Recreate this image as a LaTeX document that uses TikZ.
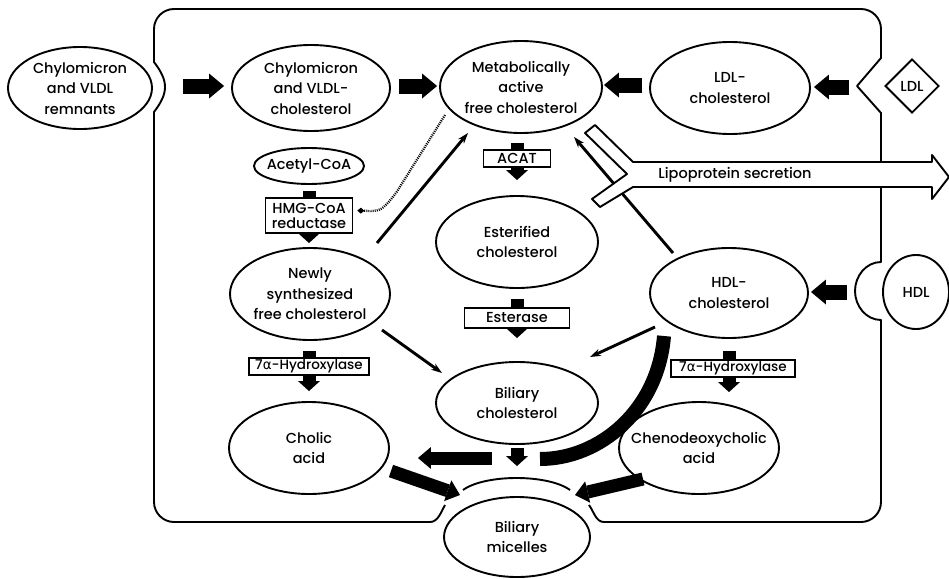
\documentclass[tikz,border=0pt]{standalone}
\usepackage{fontspec}
\setmainfont{Poppins Medium}
\newfontfamily\grk{DejaVu Sans}
\usetikzlibrary{arrows.meta,shapes.geometric,calc}
\begin{document}
\begin{tikzpicture}[x=1pt,y=-1pt,
  lbl/.style={font=\fontsize{14.5}{20.5}\selectfont, align=center},
  ell/.style 2 args={ellipse, draw, line width=1.9pt, inner sep=-14pt, minimum width=#1, minimum height=#2, lbl},
  enz/.style 2 args={rectangle, draw, fill=white, line width=1.7pt, inner sep=0pt, minimum width=#1, minimum height=#2, lbl},
  fat/.style={line width=15pt, -{Triangle[width=25pt,length=15pt,line width=0pt]}},
  fatv/.style={line width=13pt, -{Triangle[width=22pt,length=10pt,line width=0pt]}},
  fatb/.style={line width=13pt, -{Triangle[width=22pt,length=13pt,line width=0pt]}},
  slim/.style={line width=2.9pt, -{Stealth[length=11pt,width=7.5pt,line width=0pt]}},
  dotl/.style={line width=2.3pt, dash pattern=on 1pt off 1.1pt, -{Diamond[length=7pt,width=6pt,line width=0pt]}},
  memb/.style={line width=1.9pt, line join=round}
]
\useasboundingbox (0,0) rectangle (949,578);

% cell membrane
\draw[memb] (589,505) .. controls (594,512) and (596,522) .. (604,522) -- (861,522)
  .. controls (872,522) and (881,513) .. (881,502) -- (881,320)
  .. controls (866,320) and (855,306) .. (855,291) .. controls (855,276) and (866,262) .. (881,262)
  -- (881,113) -- (857,86) -- (881,58) -- (881,29)
  .. controls (881,18) and (872,9) .. (861,9) -- (174,9)
  .. controls (163,9) and (154,18) .. (154,29) -- (154,62)
  .. controls (160,70) and (165,78) .. (165,87) .. controls (165,96) and (160,104) .. (154,112)
  -- (154,502) .. controls (154,513) and (163,522) .. (174,522) -- (430,522)
  .. controls (438,522) and (441,512) .. (445,505);
\draw[memb] (463,490) .. controls (485,474) and (548,474) .. (570,490);

% compartments
\node[ell={144pt}{82pt}] (remn) at (80,88) {Chylomicron\\and VLDL\\remnants};
\node[ell={158pt}{86pt}] (chylo) at (311,88) {Chylomicron\\and VLDL-\\cholesterol};
\node[ell={162pt}{92pt}] (metab) at (521,87) {Metabolically\\active\\free cholesterol};
\node[ell={160pt}{92pt}] (ldl) at (730,88) {LDL-\\cholesterol};
\node[ell={110pt}{36pt}] (acetyl) at (309,166) {Acetyl-CoA};
\node[ell={160pt}{92pt}] (newly) at (310,294) {Newly\\synthesized\\free cholesterol};
\node[ell={162pt}{92pt}] (ester) at (517,242) {Esterified\\cholesterol};
\node[ell={158pt}{90pt}] (hdlc) at (729,293) {HDL-\\cholesterol};
\node[ell={162pt}{82pt}] (bil) at (517,403) {Biliary\\cholesterol};
\node[ell={160pt}{92pt}] (cholic) at (309,448) {Cholic\\acid};
\node[ell={160pt}{92pt}] (cheno) at (699,448) {Chenodeoxycholic\\acid};
\node[ell={146pt}{80pt}] (mic) at (517,537) {Biliary\\micelles};
\node[ell={66pt}{74pt}] (hdl) at (916,292) {HDL};
\node[diamond, draw, line width=1.9pt, inner sep=0pt, minimum width=54pt, minimum height=54pt, lbl] (ldlx) at (912,86) {LDL};

% thin arrows
\draw[slim] ($(newly)+(67,-51)$) -- ($(metab)+(-53,46)$);
\draw[slim] ($(hdlc)+(-56,-40)$) -- ($(metab)+(53,50)$);
\draw[slim] ($(newly)+(72,36)$) -- ($(bil)+(-75,-30)$);
\draw[slim] ($(hdlc)+(-74,34)$) -- ($(bil)+(73,-46)$);

% fat horizontal arrows
\draw[fat] ($(remn.east)+(30,-2)$) -- ($(chylo.west)+(-7,-2)$);
\draw[fat] ($(chylo.east)+(8,-2)$) -- ($(metab.west)+(-2,-1)$);
\draw[fat] ($(ldl.west)+(-7,-3)$) -- ($(metab.east)+(1,-2)$);
\draw[fat] ($(ldlx.west)+(-35,1)$) -- ($(ldl.east)+(3,-1)$);
\draw[fat] ($(hdl.west)+(-35,0)$) -- ($(hdlc.east)+(2,-1)$);

% fat vertical arrows through enzymes
\draw[fatv] ($(acetyl.south)+(0,6)$) -- ($(newly.north)+(-1,-4)$);
\draw[fatv] ($(metab.south)+(-4,9)$) -- ($(ester.north)+(0,-15)$);
\draw[fatv] ($(ester.south)+(0,10)$) -- ($(bil.north)+(0,-23)$);
\draw[fatv] ($(newly.south)+(-1,10)$) -- ($(cholic.north)+(0,-10)$);
\draw[fatv] ($(hdlc.south)+(0,12)$) -- ($(hdlc.south |- cheno.north)+(0,-9)$);
\draw[fatv] ($(bil.south)+(0,3)$) -- ($(mic.north)+(0,-30)$);

% bottom fat arrows
\coordinate (lt) at (492,458);
\draw[fatb] (lt) -- ($(cholic.east)+(28,10)$);
\draw[line width=14pt] ($(hdlc)+(-65,43)$) .. controls ($(hdlc)+(-71,117)$) and ($(bil)+(83,56)$) .. ($(bil)+(23,56)$);
\draw[fatb] ($(cholic)+(82,23)$) -- ($(mic)+(-57,-42)$);
\draw[fatb] ($(cheno)+(-56,31)$) -- ($(mic)+(58,-42)$);

% enzymes
\node[enz={87pt}{35pt}, font=\fontsize{14.5}{15}\selectfont] (hmg) at (309,215.5) {HMG-CoA\\reductase};
\node[enz={67pt}{17pt}] (acat) at (517,158.5) {ACAT};
\node[enz={105pt}{20pt}] (esterase) at (517,318) {Esterase};
\node[enz={120pt}{17pt}, font=\fontsize{13.5}{15}\selectfont] (hyd1) at (309,366.5) {7{\grk α}-Hydroxylase};
\node[enz={124pt}{17pt}, font=\fontsize{13.5}{15}\selectfont] (hyd2) at (733,368.5) {7{\grk α}-Hydroxylase};

% feedback
\draw[dotl] ($(metab)+(-76,28)$) -- ($(hmg.east)+(43,-23)$) .. controls ($(hmg.east)+(28,-4)$) .. ($(hmg.east)+(4,-5)$);

% lipoprotein secretion
\draw[memb, fill=white] (595,125) -- (633,162) -- (932,162) -- (932,155) -- (949,177) -- (932,199) -- (932,187) -- (633,187) -- (600,207) -- (592,199) -- (627,174) -- (585,133) -- cycle;
\node[lbl] (lipo) at (735,175) {Lipoprotein secretion};
\end{tikzpicture}
\end{document}
